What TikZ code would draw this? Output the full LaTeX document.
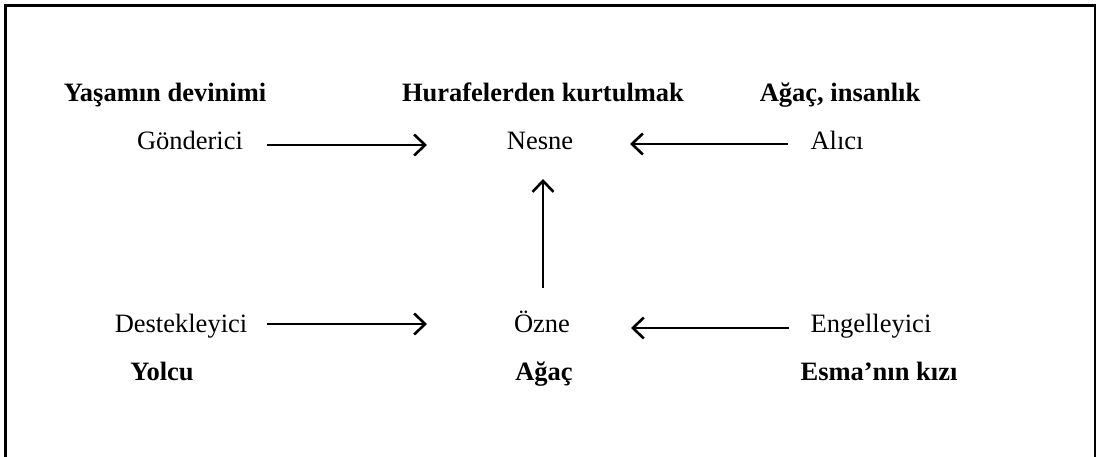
\documentclass[tikz,border=0pt]{standalone}
\usepackage{fontspec}
\setmainfont{Liberation Serif}
\usetikzlibrary{arrows.meta}
\begin{document}
\begin{tikzpicture}[x=1pt,y=-1pt,
  lbl/.style={anchor=base,inner sep=0pt,font=\fontsize{26.5}{30}\selectfont},
  blbl/.style={lbl,font=\fontsize{26.5}{30}\selectfont\bfseries},
  arr/.style={line width=2.6pt,-{Straight Barb[length=11pt,width=21pt,line width=2.6pt]}},
  frame/.style={line width=2.6pt}]
\useasboundingbox (0,0) rectangle (1106,457);
\draw[frame] (5.5,457) -- (5.5,5.5) -- (1095,5.5) -- (1095,457);
% top row
\node[blbl] (yasam) at (165,102) {Yaşamın devinimi};
\node[blbl] (hurafe) at (543,102) {Hurafelerden kurtulmak};
\node[blbl] (agacins) at (840,102) {Ağaç, insanlık};
\node[lbl] (gond) at (190,150) {Gönderici};
\node[lbl] (nesne) at (540,150) {Nesne};
\node[lbl] (alici) at (837,150) {Alıcı};
% bottom row
\node[lbl] (destek) at (181,332) {Destekleyici};
\node[lbl] (ozne) at (542,332) {Özne};
\node[lbl] (engel) at (871,332) {Engelleyici};
\node[blbl] (yolcu) at (162,380) {Yolcu};
\node[blbl] (agac) at (544,380) {Ağaç};
\node[blbl] (esma) at (879,380) {Esma’nın kızı};
% connector ends
\coordinate (g1) at (267,145);
\coordinate (n1) at (427,145);
\coordinate (a1) at (788,144);
\coordinate (n2) at (630,144);
\coordinate (d1) at (267,324);
\coordinate (o1) at (427,324);
\coordinate (e1) at (789,328);
\coordinate (o2) at (631,328);
\coordinate (ov) at (543,288);
\coordinate (nv) at (543,179);
\draw[arr] (g1) -- (n1);
\draw[arr] (a1) -- (n2);
\draw[arr] (d1) -- (o1);
\draw[arr] (e1) -- (o2);
\draw[arr] (ov) -- (nv);
\end{tikzpicture}
\end{document}
